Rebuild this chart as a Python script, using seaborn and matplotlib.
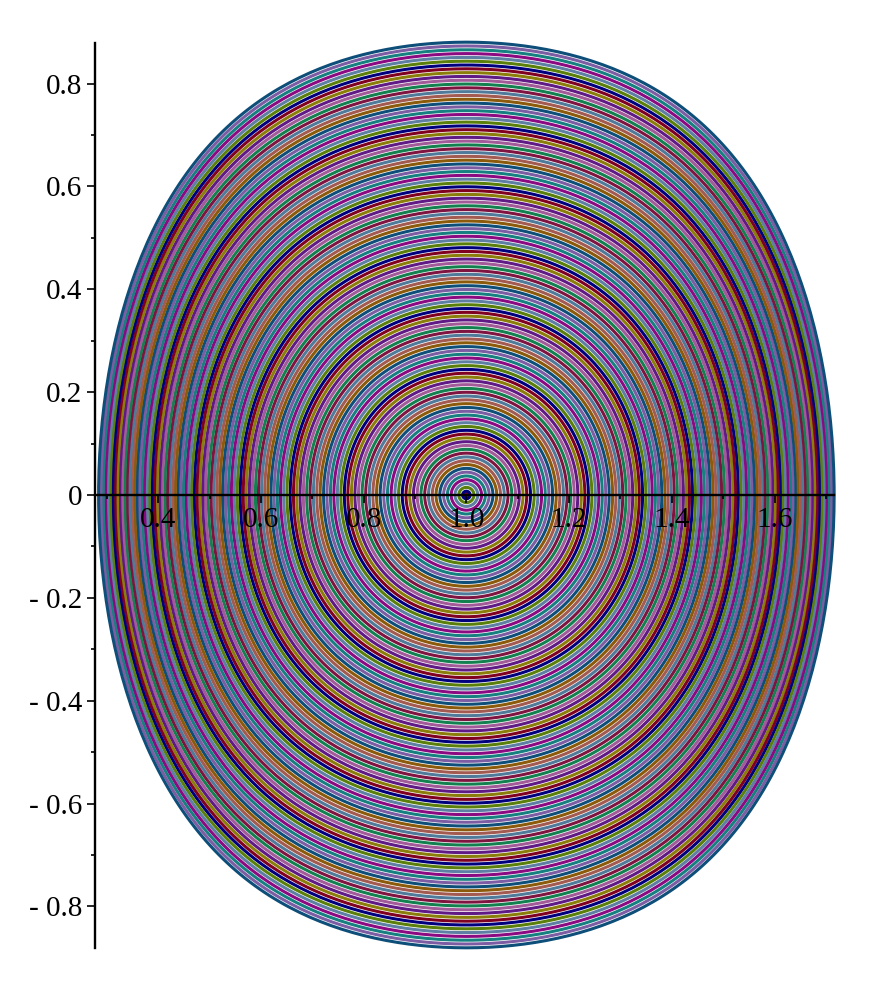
import numpy as np
import pandas as pd
import matplotlib
matplotlib.use("Agg")
import matplotlib.pyplot as plt
from matplotlib.ticker import MultipleLocator
import seaborn as sns

# rings around (1, 0): height where each ring crosses x = 1
x_centre = 1.0
ring_count = 120
ring_step = 0.0074
ring_tops = ring_step * np.arange(ring_count)
ring_tops[0] = 0.0035          # the small centre ring

# colour cycle, innermost ring first
ring_colours = ['#7f0020', '#00007f', '#5a7f0a', '#5c7fa3', '#8b0a82', '#15807f',
                '#7c5ca3', '#0e4f7a', '#8b5a0a', '#a35a50', '#4f7a99', '#7f1440',
                '#12804f', '#a35a99', '#5f1a85', '#8b7d0a']

x_ticks = [0.4, 0.6, 0.8, 1.0, 1.2, 1.4, 1.6]
x_tick_labels = ["0.4", "0.6", "0.8", "1.0", "1.2", "1.4", "1.6"]
y_ticks = [-0.8, -0.6, -0.4, -0.2, 0, 0.2, 0.4, 0.6, 0.8]
y_tick_labels = ["- 0.8", "- 0.6", "- 0.4", "- 0.2", "0", "0.2", "0.4", "0.6", "0.8"]

# closed orbits of y^2/2 + u^2/2 + u^4/2 = const, u = x - 1
theta = np.linspace(np.pi / 2, np.pi / 2 + 2 * np.pi, 401)
frames = []
for k, b in enumerate(ring_tops):
    s = (-1 + np.sqrt(1 + 4 * b ** 2)) / 2   # u^2 at the turning point
    a = np.sqrt(s)
    u = a * np.sin(theta)
    y = np.cos(theta) * np.sqrt(a ** 2 + a ** 4 * (1 + np.sin(theta) ** 2))
    frames.append(pd.DataFrame({'x': x_centre + u, 'y': y, 'ring': 'r%03d' % k}))
df = pd.concat(frames, ignore_index=True)

rings = ['r%03d' % k for k in range(ring_count)]
pal = {r: ring_colours[k % len(ring_colours)] for k, r in enumerate(rings)}

sns.set_theme(style="white")
plt.rcParams['font.family'] = ['Liberation Serif', 'DejaVu Serif']

fig = plt.figure(figsize=(8.73, 9.93), dpi=100)
ax = fig.add_axes([0.1088, 0.0453, 0.8467, 0.9114])

sns.lineplot(data=df, x='x', y='y', hue='ring', hue_order=rings, palette=pal,
             sort=False, estimator=None, legend=False, lw=2.2,
             solid_capstyle='butt', ax=ax)
for line in ax.lines:
    line.set_clip_on(False)

ax.set_xlim(0.277, 1.716)
ax.set_ylim(-0.881, 0.879)
ax.set_xlabel('')
ax.set_ylabel('')
ax.set_axisbelow(False)

for side in ['top', 'right']:
    ax.spines[side].set_visible(False)
ax.spines['bottom'].set_position(('data', 0))
for side in ['left', 'bottom']:
    ax.spines[side].set_linewidth(1.7)
    ax.spines[side].set_color('black')
    ax.spines[side].set_zorder(5)

ax.set_xticks(x_ticks, x_tick_labels)
ax.set_yticks(y_ticks, y_tick_labels)
ax.xaxis.set_minor_locator(MultipleLocator(0.1))
ax.yaxis.set_minor_locator(MultipleLocator(0.1))
ax.tick_params(axis='x', which='both', bottom=True)
ax.tick_params(axis='y', which='both', left=True)
ax.tick_params(which='major', direction='out', length=6, width=1.2, color='black',
               labelsize=21, labelcolor='black', pad=3)
ax.tick_params(which='minor', direction='out', length=3, width=1.2, color='black')
for t in ax.get_xticklabels() + ax.get_yticklabels():
    t.set_zorder(6)

fig.savefig('out.png', dpi=100)
